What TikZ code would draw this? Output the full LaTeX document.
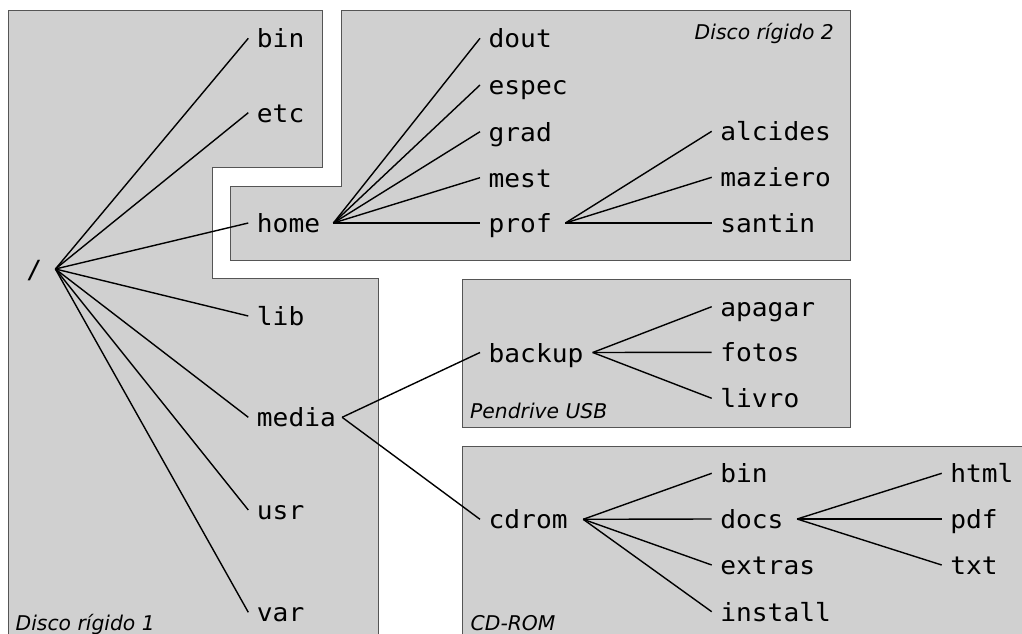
\documentclass[tikz,border=0pt]{standalone}
\usepackage{fontspec}
\newfontfamily\dirfont[FakeStretch=1.05]{DejaVu Sans Mono}
\newfontfamily\volfont{DejaVu Sans}
\definecolor{boxgray}{RGB}{208,208,208}
\definecolor{boxedge}{RGB}{85,85,85}
\begin{document}
\begin{tikzpicture}[x=1pt,y=-1pt,
  vol/.style={fill=boxgray, draw=boxedge, line width=1pt},
  dir/.style={anchor=west, inner xsep=8.4pt, inner ysep=0pt,
    text height=19pt, text depth=0pt,
    font=\dirfont\fontsize{25}{25}\selectfont},
  volname/.style={inner sep=0pt, font=\volfont\itshape\fontsize{20.3}{24}\selectfont},
  link/.style={line width=1.4pt, black}]
\useasboundingbox (0,0) rectangle (1022,634);

% storage volumes
\begin{scope}
  \clip (0,0) rectangle (1022,634);
  \draw[vol] (8.5,10.5) -- (322.5,10.5) -- (322.5,167.5) -- (212.5,167.5)
    -- (212.5,278.5) -- (378.5,278.5) -- (378.5,650) -- (8.5,650) -- cycle;
  \draw[vol] (341.5,10.5) -- (850.5,10.5) -- (850.5,260) -- (230.5,260)
    -- (230.5,186) -- (341.5,186) -- cycle;
  \draw[vol] (462,279.5) rectangle (850.5,427);
  \draw[vol] (462,446) rectangle (1040,650);
\end{scope}

\node[volname, anchor=base west] (hd1) at (15.5,630) {Disco rígido 1};
\node[volname, anchor=base east] (hd2) at (834,39.8) {Disco rígido 2};
\node[volname, anchor=base west] (usb) at (470,418) {Pendrive USB};
\node[volname, anchor=base west] (cd)  at (470.5,630) {CD-ROM};

% directory tree
\node[dir] (root) at (17.7,269) {/};

\node[dir] (bin)   at (248.3,38.3)  {bin};
\node[dir] (etc)   at (248.3,112.7) {etc};
\node[dir] (home)  at (248.3,223)   {home};
\node[dir] (lib)   at (248.3,316)   {lib};
\node[dir] (media) at (248.3,417.3) {media};
\node[dir] (usr)   at (248.3,510)   {usr};
\node[dir] (var)   at (248.3,612.3) {var};

\node[dir] (dout)  at (480,38.3)  {dout};
\node[dir] (espec) at (480,85)    {espec};
\node[dir] (grad)  at (480,131.7) {grad};
\node[dir] (mest)  at (480,177.7) {mest};
\node[dir] (prof)  at (480,223)   {prof};

\node[dir] (alcides) at (711.7,131.3) {alcides};
\node[dir] (maziero) at (711.7,177.3) {maziero};
\node[dir] (santin)  at (711.7,223)   {santin};

\node[dir] (backup) at (480,352.5) {backup};
\node[dir] (apagar) at (711.7,306.7) {apagar};
\node[dir] (fotos)  at (711.7,352.3) {fotos};
\node[dir] (livro)  at (711.7,398.3) {livro};

\node[dir] (cdrom)   at (480,519.3)   {cdrom};
\node[dir] (cdbin)   at (711.7,473.3) {bin};
\node[dir] (docs)    at (711.7,519)   {docs};
\node[dir] (extras)  at (711.7,565)   {extras};
\node[dir] (install) at (711.7,611.7) {install};

\node[dir] (html) at (941.7,473.3) {html};
\node[dir] (pdf)  at (941.7,519)   {pdf};
\node[dir] (txt)  at (941.7,565)   {txt};

% branches
\foreach \c in {bin,etc,home,lib,media,usr,var}
  \draw[link] ([xshift=4.7pt]root.east) -- (\c.west);
\foreach \c in {dout,espec,grad,mest,prof}
  \draw[link] ([xshift=4.7pt]home.east) -- (\c.west);
\foreach \c in {alcides,maziero,santin}
  \draw[link] ([xshift=5pt]prof.east) -- (\c.west);
\foreach \c in {backup,cdrom}
  \draw[link] ([xshift=-2.4pt]media.east) -- (\c.west);
\foreach \c in {apagar,fotos,livro}
  \draw[link] ([xshift=0.7pt]backup.east) -- (\c.west);
\foreach \c in {cdbin,docs,extras,install}
  \draw[link] ([xshift=7pt]cdrom.east) -- (\c.west);
\foreach \c in {html,pdf,txt}
  \draw[link] ([xshift=5pt]docs.east) -- (\c.west);
\end{tikzpicture}
\end{document}
